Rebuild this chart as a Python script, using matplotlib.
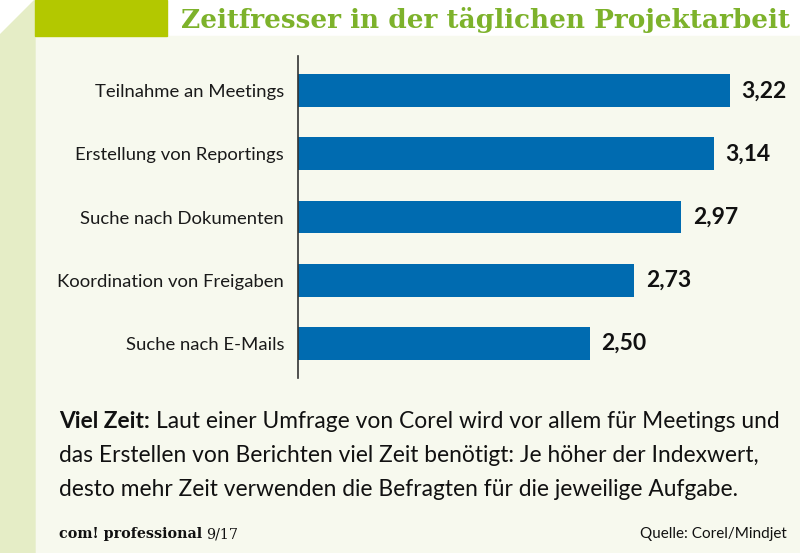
import matplotlib
matplotlib.use("Agg")
import matplotlib.pyplot as plt
from matplotlib.patches import Polygon, Rectangle

categories = ["Teilnahme an Meetings", "Erstellung von Reportings", "Suche nach Dokumenten",
              "Koordination von Freigaben", "Suche nach E-Mails"]
values = [3.22, 3.14, 2.97, 2.73, 2.50]
value_labels = ["3,22", "3,14", "2,97", "2,73", "2,50"]

title = "Zeitfresser in der täglichen Projektarbeit"
caption_bold = "Viel Zeit:"
caption_lines = [
    "Laut einer Umfrage von Corel wird vor allem für Meetings und",
    "das Erstellen von Berichten viel Zeit benötigt: Je höher der Indexwert,",
    "desto mehr Zeit verwenden die Befragten für die jeweilige Aufgabe.",
]
source = "Quelle: Corel/Mindjet"

W, H = 800, 553
fig = plt.figure(figsize=(W / 100, H / 100), dpi=100)
fig.patch.set_facecolor("white")


def px(x, y):
    # pixel coords (top-left origin) -> figure fraction
    return x / W, 1 - y / H


# background pieces
fig.patches.append(Rectangle(px(35, 553), (W - 35) / W, (553 - 36) / H,
                             transform=fig.transFigure, color="#f7f9ee", zorder=-5))
fig.patches.append(Polygon([px(0, 35), px(35, 0), px(35, 553), px(0, 553)],
                           transform=fig.transFigure, color="#e5edc6", zorder=-5))
fig.patches.append(Rectangle(px(35, 36), 132 / W, 36 / H,
                             transform=fig.transFigure, color="#b3c800", zorder=-5))

fig.text(*px(790, 28), title, ha="right", va="baseline", fontsize=18.9,
         fontweight="bold", family="DejaVu Serif", color="#7db22b")

# chart axes
ax = fig.add_axes([298 / W, 1 - 378 / H, (W - 298) / W, 322 / H])
ax.set_facecolor("none")
y = list(range(len(values)))
ax.barh(y, [v - 1 for v in values], left=1, height=0.52, color="#006bb0")
ax.set_xlim(1, 1 + (W - 298) / 194.4)
ax.set_ylim(4.55, -0.55)
ax.set_yticks(y)
ax.set_yticklabels(categories, fontsize=13.3, family="Lato", color="#1a1a1a")
ax.tick_params(axis="y", length=0, pad=10)
ax.set_xticks([])
for s in ["top", "right", "bottom"]:
    ax.spines[s].set_visible(False)
ax.spines["left"].set_color("#333333")
ax.spines["left"].set_linewidth(1.2)
for yi, v, lab in zip(y, values, value_labels):
    ax.text(v + 0.06, yi, lab, va="center", ha="left", fontsize=16.5,
            fontweight="bold", family="Lato", color="#111111")

# caption
fs = 16.4
t = fig.text(*px(59, 428), caption_bold, ha="left", va="baseline", fontsize=fs,
             fontweight="bold", family="Lato", color="#111111")
fig.canvas.draw()
bb = t.get_window_extent()
fig.text(bb.x1 / W + 6 / W, 1 - 428 / H, caption_lines[0], ha="left", va="baseline",
         fontsize=fs, family="Lato", color="#111111")
for i, line in enumerate(caption_lines[1:]):
    fig.text(*px(59, 462 + 34.5 * i), line, ha="left", va="baseline",
             fontsize=fs, family="Lato", color="#111111")

t2 = fig.text(*px(59, 538), "com! professional", ha="left", va="baseline", fontsize=10.3,
              fontweight="bold", family="DejaVu Serif", color="#111111")
fig.canvas.draw()
bb2 = t2.get_window_extent()
fig.text(bb2.x1 / W + 4 / W, 1 - 538 / H, "9/17", ha="left", va="baseline", fontsize=10.3,
         family="DejaVu Serif", color="#111111")
fig.text(*px(787, 538), source, ha="right", va="baseline", fontsize=11,
         family="Lato", color="#111111")

fig.savefig("out.png", dpi=100, facecolor=fig.get_facecolor())
